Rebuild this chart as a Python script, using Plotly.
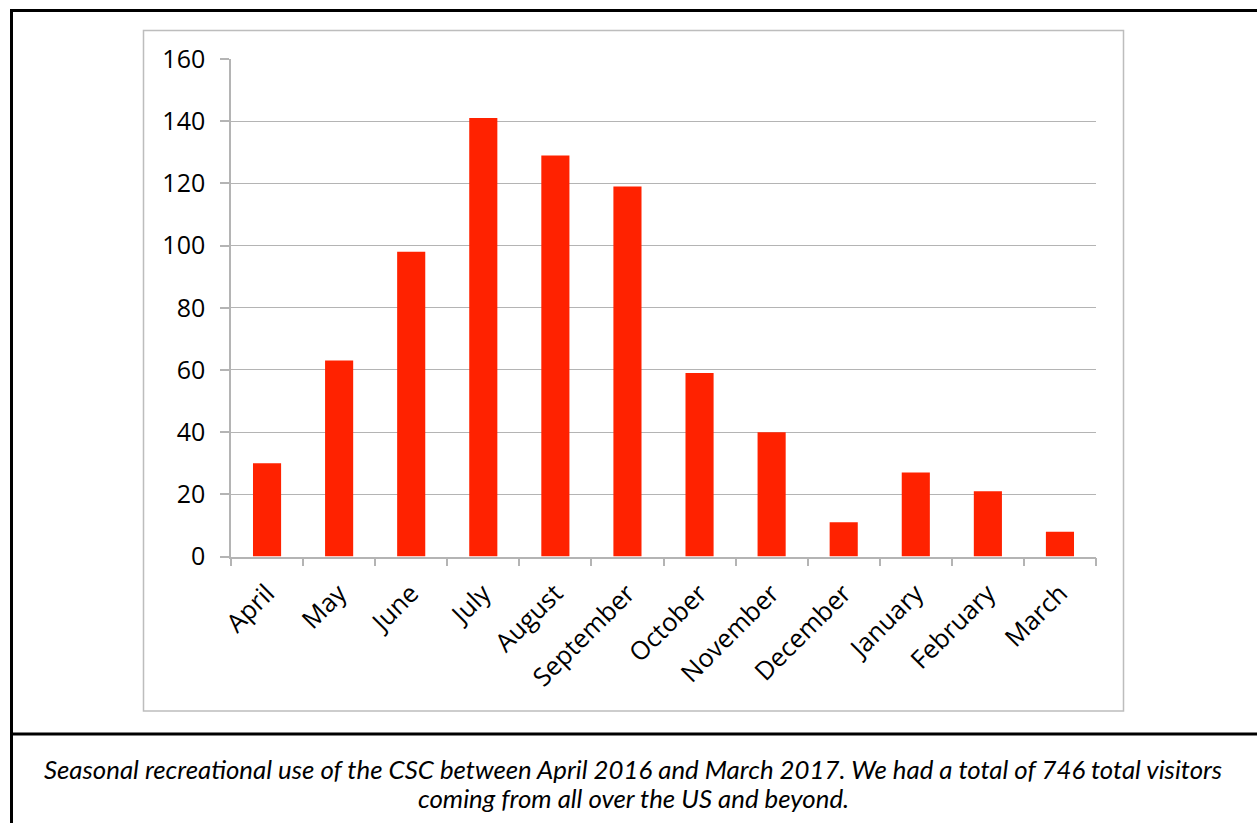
import plotly.graph_objects as go

months = ["April", "May", "June", "July", "August", "September", "October",
          "November", "December", "January", "February", "March"]
visitors = [30, 63, 98, 141, 129, 119, 59, 40, 11, 27, 21, 8]
y_ticks = [0, 20, 40, 60, 80, 100, 120, 140, 160]
caption_line1 = ("Seasonal recreational use of the CSC between April 2016 and March 2017. "
                 "We had a total of 746 total visitors")
caption_line2 = "coming from all over the US and beyond."

W, H = 1257, 823

def px(x):
    return x / W

def py(y):
    return 1 - y / H

fig = go.Figure()
fig.add_trace(go.Bar(x=months, y=visitors, marker=dict(color="#FF2200", line=dict(width=0)),
                     hoverinfo="x+y"))

axis_col = "#b4b4b4"
fig.update_layout(
    width=W, height=H,
    margin=dict(l=0, r=0, t=0, b=0),
    paper_bgcolor="white", plot_bgcolor="white",
    showlegend=False,
    bargap=0.61,
    font=dict(family="Open Sans", color="black"),
    xaxis=dict(domain=[px(231), px(1096)], type="category",
               tickangle=-45, tickfont=dict(size=25.5, color="black"),
               showline=True, linecolor=axis_col, linewidth=1.5,
               ticks="outside", ticklen=8, tickcolor=axis_col, tickwidth=1.5,
               tickson="boundaries", showgrid=False, automargin=False,
               ticklabelstandoff=10, range=[-0.5, 11.5]),
    yaxis=dict(domain=[py(556.5), py(59)], range=[0, 160],
               tickvals=y_ticks, tickfont=dict(size=25, color="black"),
               showline=True, linecolor=axis_col, linewidth=1.5,
               ticks="outside", ticklen=9, tickcolor=axis_col, tickwidth=1.5,
               showgrid=True, gridcolor=axis_col, gridwidth=1.2,
               zeroline=False, automargin=False, ticklabelstandoff=10),
)

shapes = [
    # outer black border
    dict(type="line", x0=px(11.5), x1=px(11.5), y0=py(9.5), y1=py(830), line=dict(color="black", width=3)),
    dict(type="line", x0=px(10), x1=px(1260), y0=py(10.5), y1=py(10.5), line=dict(color="black", width=3)),
    dict(type="line", x0=px(10), x1=px(1260), y0=py(734), y1=py(734), line=dict(color="black", width=3)),
    # gray chart frame
    dict(type="rect", x0=px(143.5), x1=px(1123.5), y0=py(30.5), y1=py(711), line=dict(color="#bdbdbd", width=1.5)),
]
fig.update_layout(shapes=[dict(s, xref="paper", yref="paper", layer="below") for s in shapes])

for txt, yc in [(caption_line1, 769), (caption_line2, 798)]:
    fig.add_annotation(text="<i>" + txt + "</i>", xref="paper", yref="paper",
                       x=px(633), y=py(yc), xanchor="center", yanchor="middle",
                       showarrow=False, align="center",
                       font=dict(family="Lato", size=25.8, color="black"))

fig.write_html("out.html")
